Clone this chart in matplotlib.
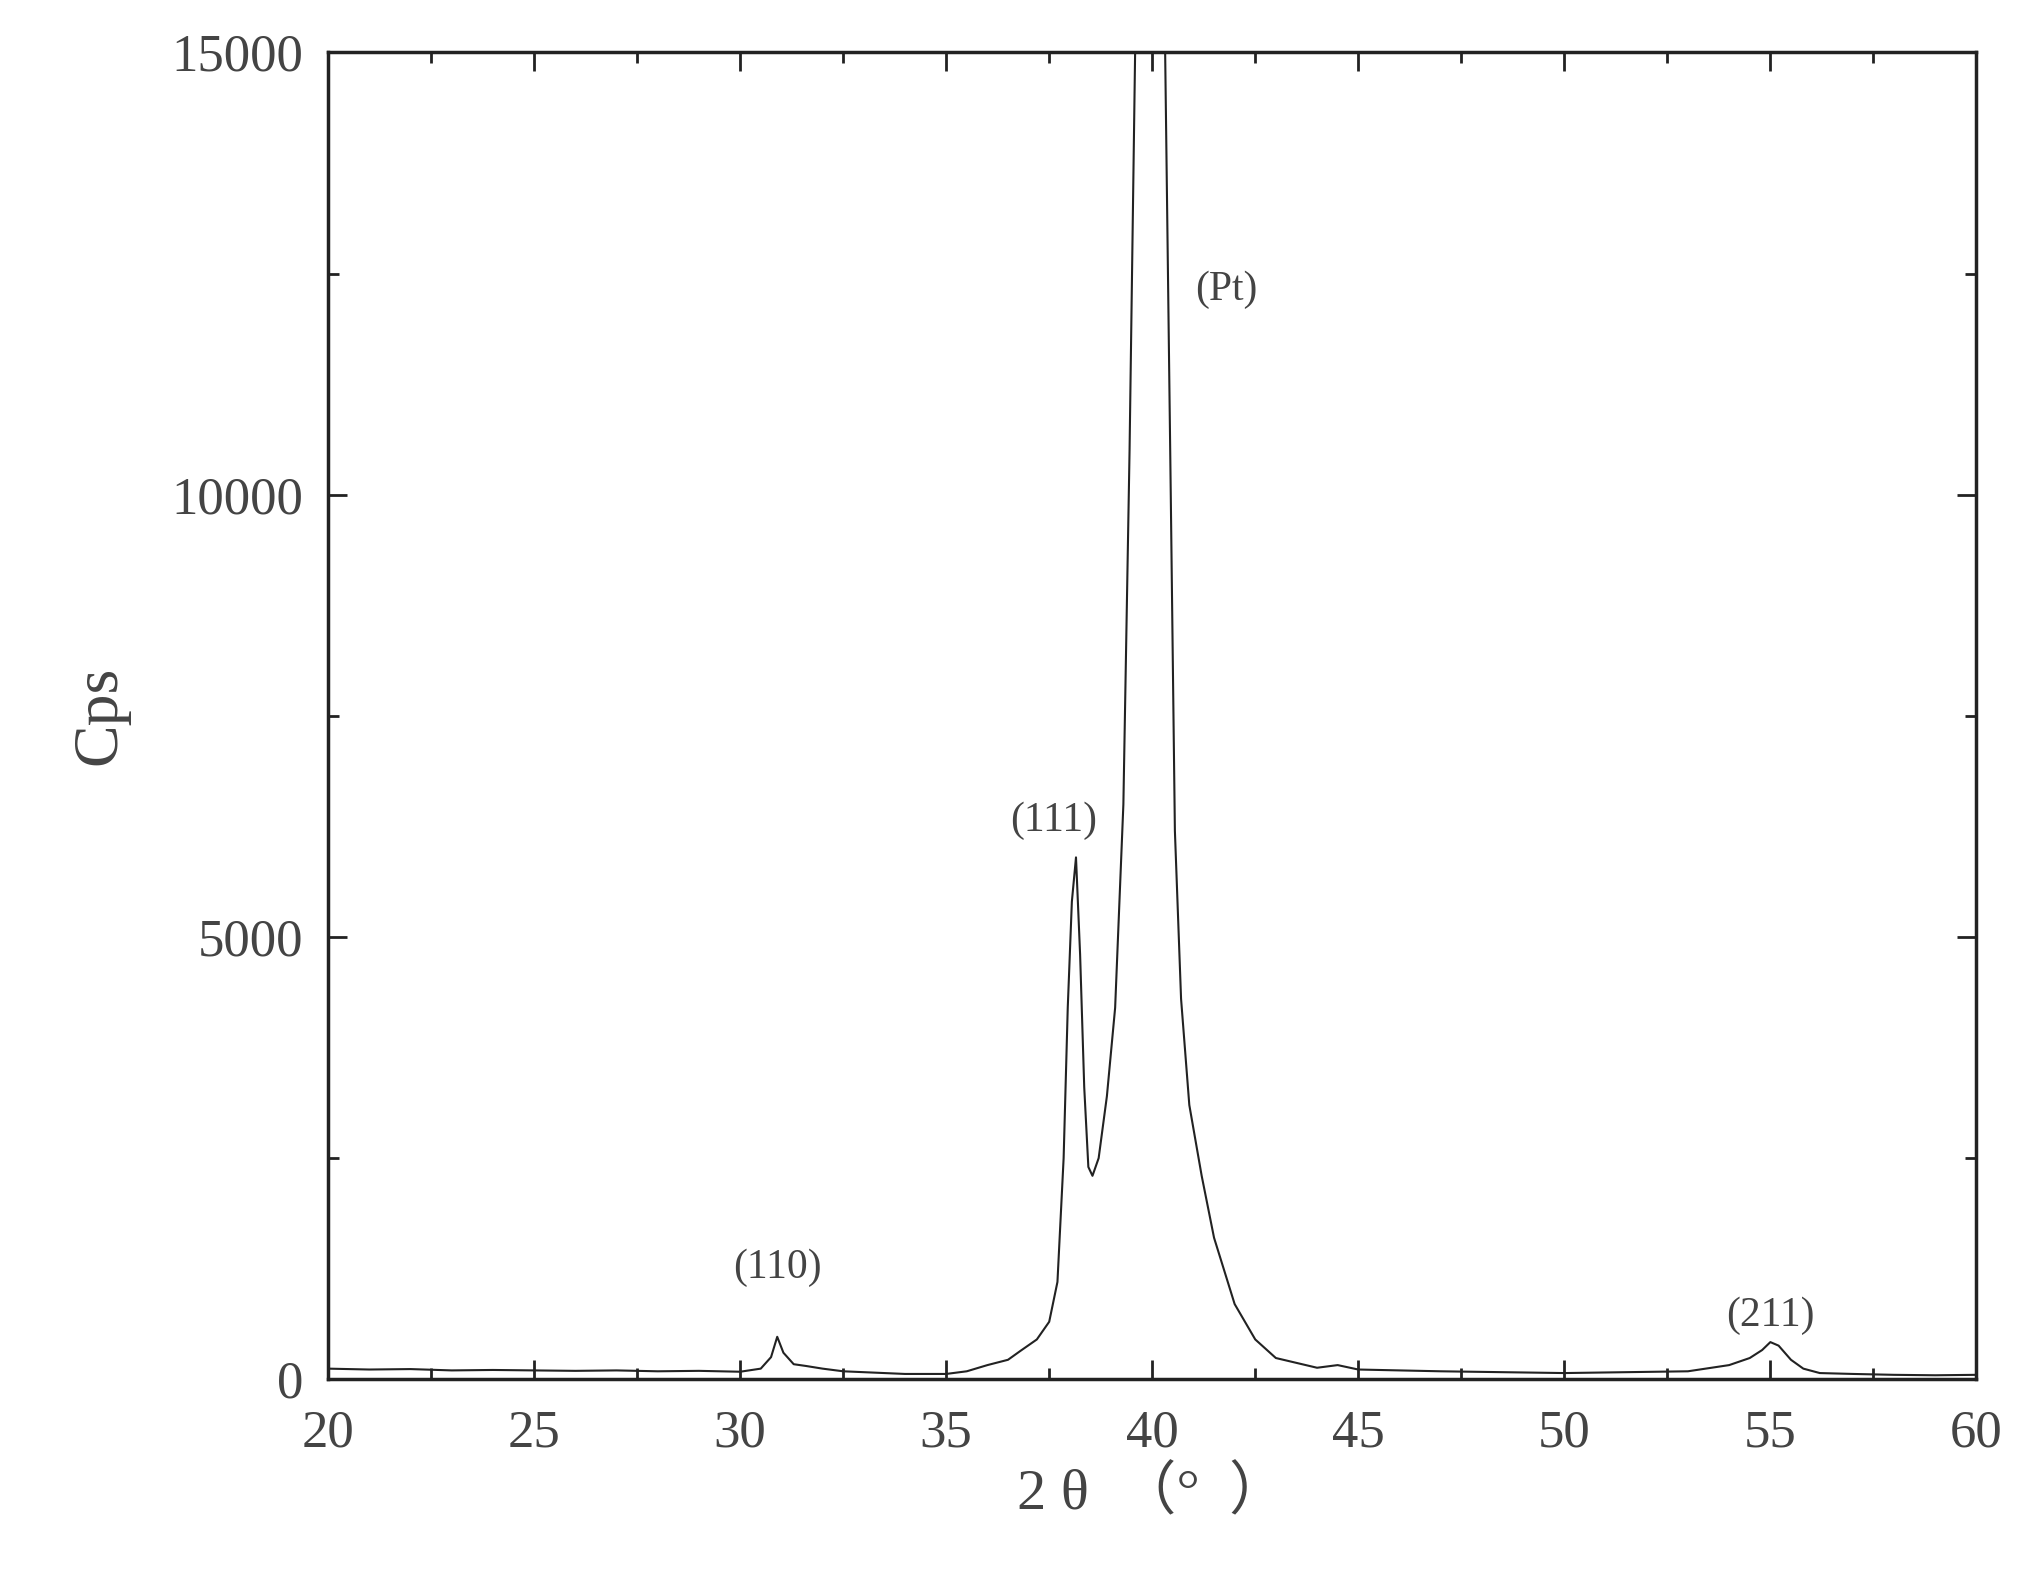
import matplotlib
matplotlib.use("Agg")
import matplotlib.pyplot as plt
from matplotlib.ticker import MultipleLocator

two_theta = [20,21,22,23,24,25,26,27,28,29,30,30.5,30.75,30.9,31.05,31.3,31.6,32,32.5,33,34,35,35.5,36,36.5,36.8,37.2,37.5,37.7,37.85,37.95,38.05,38.15,38.25,38.35,38.45,38.55,38.7,38.9,39.1,39.3,39.45,39.6,39.9,40.3,40.45,40.55,40.7,40.9,41.2,41.5,42,42.5,43,44,44.5,45,47,50,53,54,54.5,54.8,55.0,55.2,55.5,55.8,56.2,57,58,59,60]
cps = [120,110,115,100,105,100,95,100,90,95,85,120,250,480,300,170,150,120,90,80,60,60,90,160,220,320,450,650,1100,2500,4200,5400,5900,4800,3300,2400,2300,2500,3200,4200,6500,10500,15500,20000,15500,10000,6200,4300,3100,2300,1600,850,450,240,130,160,110,90,70,90,160,240,330,420,380,220,120,70,60,50,45,50]

plt.rcParams['font.family'] = ['Liberation Serif', 'Noto Sans CJK SC', 'DejaVu Sans']
fig = plt.figure(figsize=(20.25, 15.89), dpi=100)
ax = fig.add_axes([0.162, 0.132, 0.814, 0.835])
ax.plot(two_theta, cps, color='#222222', lw=1.5)
ax.set_xlim(20, 60)
ax.set_ylim(0, 15000)
ax.xaxis.set_major_locator(MultipleLocator(5))
ax.xaxis.set_minor_locator(MultipleLocator(2.5))
ax.yaxis.set_major_locator(MultipleLocator(5000))
ax.yaxis.set_minor_locator(MultipleLocator(2500))
ax.tick_params(which='both', direction='in', top=True, right=True, width=2, colors='#222222', labelcolor='#444444', labelsize=38)
ax.tick_params(which='major', length=14)
ax.tick_params(which='minor', length=8)
ax.tick_params(axis='x', which='major', pad=22)
ax.tick_params(axis='y', which='major', pad=18)
for s in ax.spines.values():
    s.set_linewidth(2.5)
    s.set_color('#222222')
ax.set_xlabel('2 θ  （°  ）', fontsize=42, color='#444444', labelpad=6)
ax.set_ylabel('Cps', fontsize=46, color='#444444', labelpad=30)
tc = '#444444'
ax.text(30.9, 1150, '(110)', fontsize=30, ha='center', color=tc)
ax.text(37.6, 6200, '(111)', fontsize=30, ha='center', color=tc)
ax.text(41.8, 12200, '(Pt)', fontsize=30, ha='center', color=tc)
ax.text(55.0, 600, '(211)', fontsize=30, ha='center', color=tc)
fig.savefig('out.png', dpi=100, facecolor='white')
